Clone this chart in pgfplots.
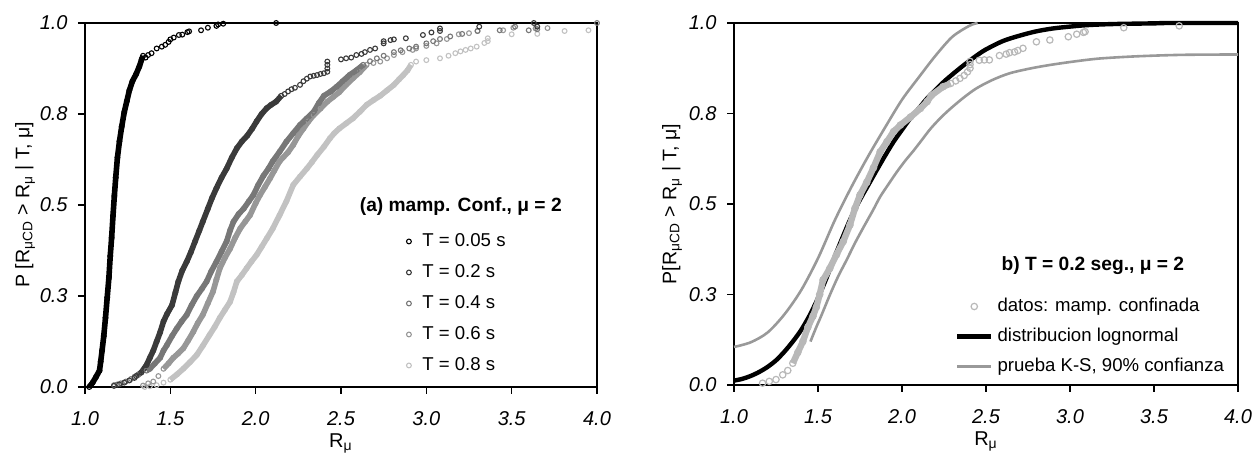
\documentclass[border=0pt]{standalone}
\usepackage{fontspec}
\setmainfont{Liberation Sans}
\usepackage{pgfplots}
\pgfplotsset{compat=1.18}
\definecolor{c1}{HTML}{000000}
\definecolor{c2}{HTML}{3A3A3A}
\definecolor{c3}{HTML}{777777}
\definecolor{c4}{HTML}{979797}
\definecolor{c5}{HTML}{C2C2C2}
\definecolor{cd}{HTML}{B8B8B8}
\definecolor{cb}{HTML}{999999}
\pgfplotsset{
 dotlegend/.style={legend image code/.code={\draw[##1] plot coordinates {(0pt,0pt)};}},
 myaxis/.style={
  scale only axis, anchor=south west,
  xmin=1, xmax=4, ymin=0, ymax=1,
  xtick={1,1.5,2,2.5,3,3.5,4},
  xticklabels={1.0,1.5,2.0,2.5,3.0,3.5,4.0},
  ytick={0,0.25,0.5,0.75,1},
  yticklabels={0.0,0.3,0.5,0.8,1.0},
  tick align=outside, xtick pos=bottom, ytick pos=left,
  major tick length=3.5pt,
  tick style={black, line width=0.6pt},
  axis line style={line width=0.6pt},
  ticklabel style={font=\fontsize{10}{12}\selectfont\itshape},
  xticklabel style={anchor=north, inner sep=0pt, yshift=-8.5pt},
  yticklabel style={anchor=east, inner sep=0pt, xshift=-5pt},
  label style={font=\fontsize{10.5}{12}\selectfont},
  every axis x label/.style={at={(axis description cs:0.5,0)}, anchor=north, inner sep=0pt, yshift=-23pt},
  clip=false,
  legend cell align=left,
 },
 dense/.style={#1, line width=2.8pt, mark=o, mark size=1.2pt, mark options={line width=0.55pt}, forget plot},
 sparse/.style={#1, only marks, mark=o, mark size=1.2pt, mark options={line width=0.55pt}, forget plot},
}
\begin{document}
\begin{tikzpicture}
\path[use as bounding box] (0,0) rectangle (627.5pt,226.5pt);
% ---------------- left panel ----------------
\begin{axis}[myaxis, at={(42.5pt,33pt)}, width=256pt, height=182pt,
  xlabel={R\textsubscript{μ}},
  ylabel={P [R\textsubscript{μCD} > R\textsubscript{μ} | T, μ]},
  every axis y label/.style={at={(axis description cs:-0.117,0.5)}, rotate=90, anchor=center, inner sep=0pt, font=\fontsize{9.8}{12}\selectfont},
  legend style={at={(0.628,0.4245)}, anchor=north west, draw=none, fill=none,
    inner sep=0pt, outer sep=0pt, font=\fontsize{9.3}{11}\selectfont,
    row sep=6.5pt, column sep=5.5pt, nodes={inner sep=0pt, text height=7pt, text depth=2pt}},
]
% T = 0.8
\addplot[sparse=c5] table[row sep=\\] {x y\\ 1.35 0.000\\ 1.38 0.002\\ 1.42 0.005\\ 1.46 0.012\\ 2.94 0.894\\ 3.00 0.898\\ 3.08 0.903\\ 3.13 0.910\\ 3.17 0.917\\ 3.20 0.922\\ 3.23 0.926\\ 3.26 0.930\\ 3.295 0.935\\ 3.34 0.945\\ 3.36 0.950\\ 3.36 0.958\\ 3.50 0.969\\ 3.65 0.970\\ 3.81 0.978\\ 3.95 0.980\\};
\addplot[dense=c5] table[row sep=\\] {x y\\ 1.50 0.020\\ 1.54 0.035\\ 1.576 0.050\\ 1.615 0.068\\ 1.655 0.088\\ 1.69 0.113\\ 1.73 0.143\\ 1.76 0.165\\ 1.79 0.190\\ 1.82 0.212\\ 1.85 0.234\\ 1.87 0.260\\ 1.89 0.290\\ 1.92 0.308\\ 1.947 0.326\\ 1.976 0.345\\ 2.006 0.363\\ 2.035 0.385\\ 2.065 0.408\\ 2.10 0.435\\ 2.14 0.472\\ 2.18 0.510\\ 2.22 0.555\\ 2.26 0.578\\ 2.30 0.600\\ 2.33 0.618\\ 2.36 0.637\\ 2.40 0.660\\ 2.435 0.683\\ 2.46 0.697\\ 2.49 0.710\\ 2.53 0.724\\ 2.57 0.738\\ 2.61 0.756\\ 2.65 0.775\\ 2.69 0.788\\ 2.73 0.800\\ 2.77 0.815\\ 2.81 0.830\\ 2.84 0.845\\ 2.865 0.857\\ 2.89 0.870\\ 2.91 0.885\\};
% T = 0.6
\addplot[sparse=c4] table[row sep=\\] {x y\\ 1.34 0.004\\ 1.37 0.010\\ 1.40 0.015\\ 1.43 0.030\\ 2.69 0.890\\ 2.73 0.894\\ 2.77 0.903\\ 2.81 0.912\\ 2.86 0.920\\ 2.92 0.926\\ 2.94 0.930\\ 3.00 0.937\\ 3.06 0.944\\ 3.12 0.956\\ 3.19 0.969\\ 3.25 0.972\\ 3.30 0.978\\ 3.45 0.980\\ 3.51 0.987\\ 3.64 0.985\\ 3.71 0.986\\};
\addplot[dense=c4] table[row sep=\\] {x y\\ 1.46 0.050\\ 1.49 0.065\\ 1.517 0.080\\ 1.546 0.092\\ 1.576 0.106\\ 1.605 0.128\\ 1.635 0.152\\ 1.66 0.175\\ 1.69 0.198\\ 1.72 0.230\\ 1.75 0.262\\ 1.77 0.295\\ 1.79 0.326\\ 1.82 0.355\\ 1.85 0.380\\ 1.88 0.410\\ 1.91 0.436\\ 1.94 0.455\\ 1.967 0.472\\ 2.00 0.505\\ 2.025 0.527\\ 2.055 0.550\\ 2.084 0.573\\ 2.11 0.595\\ 2.14 0.620\\ 2.19 0.645\\ 2.22 0.665\\ 2.25 0.690\\ 2.28 0.710\\ 2.31 0.730\\ 2.34 0.747\\ 2.38 0.765\\ 2.42 0.784\\ 2.455 0.797\\ 2.49 0.810\\ 2.53 0.830\\ 2.57 0.848\\ 2.61 0.865\\ 2.65 0.885\\};
% T = 0.4
\addplot[sparse=c3] table[row sep=\\] {x y\\ 1.17 0.005\\ 1.19 0.007\\ 1.21 0.010\\ 1.24 0.015\\ 1.27 0.022\\ 1.29 0.028\\ 1.31 0.033\\ 1.33 0.040\\ 2.67 0.895\\ 2.71 0.903\\ 2.75 0.910\\ 2.81 0.920\\ 2.85 0.925\\ 2.90 0.930\\ 2.94 0.935\\ 3.00 0.944\\ 3.04 0.950\\ 3.08 0.956\\ 3.14 0.963\\ 3.21 0.970\\ 3.30 0.978\\ 3.43 0.980\\ 3.52 0.990\\ 3.60 0.980\\ 3.65 0.983\\ 4.00 1.000\\};
\addplot[dense=c3] table[row sep=\\] {x y\\ 1.36 0.045\\ 1.38 0.050\\ 1.41 0.065\\ 1.44 0.080\\ 1.46 0.100\\ 1.48 0.115\\ 1.51 0.140\\ 1.537 0.160\\ 1.566 0.180\\ 1.596 0.198\\ 1.625 0.225\\ 1.655 0.250\\ 1.685 0.270\\ 1.713 0.290\\ 1.74 0.318\\ 1.77 0.344\\ 1.80 0.372\\ 1.83 0.400\\ 1.85 0.430\\ 1.87 0.454\\ 1.90 0.475\\ 1.93 0.490\\ 1.96 0.510\\ 1.986 0.527\\ 2.015 0.555\\ 2.045 0.580\\ 2.075 0.600\\ 2.10 0.620\\ 2.14 0.646\\ 2.18 0.674\\ 2.22 0.697\\ 2.26 0.720\\ 2.30 0.738\\ 2.34 0.756\\ 2.37 0.780\\ 2.40 0.800\\ 2.44 0.812\\ 2.475 0.825\\ 2.51 0.840\\ 2.55 0.857\\ 2.59 0.870\\ 2.63 0.885\\};
% T = 0.2
\addplot[sparse=c2] table[row sep=\\] {x y\\ 1.17 0.003\\ 1.20 0.007\\ 1.23 0.012\\ 1.26 0.018\\ 1.29 0.025\\ 2.17 0.805\\ 2.19 0.812\\ 2.21 0.818\\ 2.23 0.822\\ 2.26 0.830\\ 2.28 0.840\\ 2.30 0.847\\ 2.32 0.853\\ 2.34 0.855\\ 2.36 0.857\\ 2.38 0.860\\ 2.40 0.862\\ 2.42 0.866\\ 2.42 0.875\\ 2.42 0.885\\ 2.42 0.894\\ 2.50 0.900\\ 2.53 0.903\\ 2.56 0.905\\ 2.59 0.912\\ 2.62 0.915\\ 2.64 0.920\\ 2.67 0.926\\ 2.70 0.930\\ 2.75 0.944\\ 2.75 0.950\\ 2.79 0.953\\ 2.81 0.955\\ 2.88 0.958\\ 2.98 0.967\\ 3.03 0.974\\ 3.08 0.978\\ 3.08 0.985\\ 3.31 0.990\\ 3.63 1.000\\ 3.65 0.990\\};
\addplot[dense=c2] table[row sep=\\] {x y\\ 1.30 0.030\\ 1.33 0.040\\ 1.36 0.060\\ 1.38 0.080\\ 1.40 0.100\\ 1.42 0.125\\ 1.44 0.150\\ 1.46 0.180\\ 1.48 0.200\\ 1.51 0.225\\ 1.53 0.260\\ 1.547 0.290\\ 1.57 0.320\\ 1.596 0.344\\ 1.62 0.370\\ 1.645 0.400\\ 1.67 0.430\\ 1.69 0.454\\ 1.72 0.490\\ 1.745 0.520\\ 1.77 0.546\\ 1.80 0.575\\ 1.83 0.600\\ 1.86 0.630\\ 1.89 0.656\\ 1.92 0.675\\ 1.95 0.690\\ 1.98 0.710\\ 2.006 0.730\\ 2.035 0.750\\ 2.065 0.766\\ 2.09 0.775\\ 2.12 0.784\\ 2.15 0.800\\};
% T = 0.05
\addplot[sparse=c1] table[row sep=\\] {x y\\ 1.355 0.905\\ 1.37 0.912\\ 1.39 0.917\\ 1.42 0.930\\ 1.45 0.935\\ 1.47 0.940\\ 1.49 0.948\\ 1.50 0.955\\ 1.52 0.960\\ 1.55 0.967\\ 1.57 0.968\\ 1.60 0.975\\ 1.61 0.977\\ 1.68 0.980\\ 1.72 0.987\\ 1.77 0.992\\ 1.78 0.996\\ 1.81 0.998\\ 2.12 1.000\\};
\addplot[dense=c1] table[row sep=\\] {x y\\ 1.025 0.000\\ 1.045 0.012\\ 1.065 0.028\\ 1.085 0.045\\ 1.092 0.070\\ 1.100 0.100\\ 1.110 0.140\\ 1.120 0.190\\ 1.130 0.245\\ 1.140 0.300\\ 1.148 0.360\\ 1.156 0.410\\ 1.164 0.470\\ 1.172 0.525\\ 1.180 0.575\\ 1.190 0.630\\ 1.202 0.675\\ 1.215 0.715\\ 1.230 0.755\\ 1.245 0.785\\ 1.260 0.815\\ 1.278 0.840\\ 1.300 0.860\\ 1.318 0.880\\ 1.332 0.900\\ 1.340 0.910\\};
\addlegendimage{c1, only marks, mark=o, mark size=1.2pt, mark options={line width=0.55pt}, dotlegend}
\addlegendentry{T = 0.05 s}
\addlegendimage{c2, only marks, mark=o, mark size=1.2pt, mark options={line width=0.55pt}, dotlegend}
\addlegendentry{T = 0.2 s}
\addlegendimage{c3, only marks, mark=o, mark size=1.2pt, mark options={line width=0.55pt}, dotlegend}
\addlegendentry{T = 0.4 s}
\addlegendimage{c4, only marks, mark=o, mark size=1.2pt, mark options={line width=0.55pt}, dotlegend}
\addlegendentry{T = 0.6 s}
\addlegendimage{c5, only marks, mark=o, mark size=1.2pt, mark options={line width=0.55pt}, dotlegend}
\addlegendentry{T = 0.8 s}
\node[anchor=base, inner sep=0pt, font=\fontsize{9.6}{11}\selectfont\bfseries] at (rel axis cs:0.734,0.4816) {(a) mamp. Conf., μ = 2};
\end{axis}
% ---------------- right panel ----------------
\begin{axis}[myaxis, at={(367pt,34pt)}, width=252pt, height=181pt,
  xlabel={R\textsubscript{μ}},
  ylabel={P[R\textsubscript{μCD} > R\textsubscript{μ} | T, μ]},
  every axis y label/.style={at={(axis description cs:-0.123,0.5)}, rotate=90, anchor=center, inner sep=0pt, font=\fontsize{9.8}{12}\selectfont},
  legend style={at={(0.4385,0.2417)}, anchor=north west, draw=none, fill=none,
    inner sep=0pt, outer sep=0pt, font=\fontsize{9.3}{11}\selectfont,
    row sep=6pt, column sep=2pt, nodes={inner sep=0pt, text height=7pt, text depth=2pt}},
]
\addplot[cb, line width=1.3pt, smooth, forget plot] table[row sep=\\] {x y\\ 1.00 0.105\\ 1.10 0.118\\ 1.20 0.145\\ 1.30 0.195\\ 1.40 0.262\\ 1.50 0.350\\ 1.60 0.455\\ 1.70 0.548\\ 1.80 0.633\\ 1.90 0.712\\ 2.00 0.788\\ 2.10 0.850\\ 2.20 0.910\\ 2.30 0.962\\ 2.40 0.992\\ 2.45 1.000\\};
\addplot[cb, line width=1.3pt, smooth, forget plot] table[row sep=\\] {x y\\ 1.455 0.120\\ 1.49 0.160\\ 1.52 0.192\\ 1.57 0.248\\ 1.62 0.300\\ 1.67 0.345\\ 1.72 0.392\\ 1.77 0.435\\ 1.83 0.485\\ 1.87 0.520\\ 1.92 0.555\\ 1.97 0.589\\ 2.02 0.620\\ 2.07 0.648\\ 2.12 0.678\\ 2.17 0.708\\ 2.23 0.738\\ 2.29 0.764\\ 2.37 0.795\\ 2.445 0.820\\ 2.54 0.843\\ 2.64 0.861\\ 2.76 0.874\\ 2.88 0.884\\ 3.03 0.894\\ 3.18 0.902\\ 3.40 0.908\\ 3.67 0.912\\ 4.00 0.913\\};
\addplot[black, line width=2.2pt, smooth, forget plot] table[row sep=\\] {x y\\ 1.00 0.012\\ 1.05 0.017\\ 1.10 0.025\\ 1.15 0.036\\ 1.20 0.050\\ 1.25 0.068\\ 1.30 0.092\\ 1.35 0.120\\ 1.40 0.152\\ 1.45 0.192\\ 1.50 0.240\\ 1.55 0.295\\ 1.60 0.355\\ 1.65 0.412\\ 1.70 0.466\\ 1.75 0.512\\ 1.80 0.553\\ 1.85 0.594\\ 1.90 0.634\\ 1.95 0.672\\ 2.00 0.705\\ 2.05 0.737\\ 2.10 0.764\\ 2.15 0.792\\ 2.20 0.815\\ 2.25 0.838\\ 2.30 0.858\\ 2.35 0.877\\ 2.40 0.895\\ 2.45 0.912\\ 2.50 0.927\\ 2.60 0.950\\ 2.70 0.965\\ 2.80 0.977\\ 2.90 0.985\\ 3.00 0.990\\ 3.10 0.994\\ 3.25 0.997\\ 3.50 0.999\\ 3.60 1.000\\ 4.00 1.000\\};
\addplot[cd, line width=3.2pt, mark=o, mark size=1.6pt, mark options={line width=0.6pt}, forget plot] table[row sep=\\] {x y\\ 1.35 0.060\\ 1.38 0.090\\ 1.41 0.120\\ 1.44 0.160\\ 1.47 0.190\\ 1.49 0.215\\ 1.51 0.250\\ 1.53 0.290\\ 1.57 0.322\\ 1.61 0.360\\ 1.65 0.396\\ 1.69 0.442\\ 1.72 0.488\\ 1.75 0.525\\ 1.79 0.560\\ 1.83 0.600\\ 1.87 0.644\\ 1.91 0.672\\ 1.95 0.700\\ 1.99 0.718\\ 2.05 0.740\\ 2.11 0.764\\ 2.15 0.783\\ 2.175 0.800\\ 2.245 0.824\\ 2.29 0.833\\};
\addplot[cd, only marks, mark=o, mark size=1.6pt, mark options={line width=0.6pt}, forget plot] table[row sep=\\] {x y\\ 1.17 0.005\\ 1.21 0.010\\ 1.25 0.015\\ 1.29 0.028\\ 1.32 0.040\\ 2.32 0.840\\ 2.345 0.847\\ 2.37 0.855\\ 2.39 0.865\\ 2.405 0.875\\ 2.405 0.885\\ 2.405 0.894\\ 2.46 0.897\\ 2.49 0.898\\ 2.52 0.898\\ 2.58 0.910\\ 2.62 0.914\\ 2.64 0.918\\ 2.67 0.920\\ 2.69 0.924\\ 2.72 0.930\\ 2.80 0.948\\ 2.88 0.953\\ 2.99 0.962\\ 3.04 0.969\\ 3.08 0.974\\ 3.09 0.976\\ 3.32 0.987\\ 3.65 0.992\\};
\addlegendimage{cd, only marks, mark=o, mark size=1.6pt, mark options={line width=0.6pt}}
\addlegendentry{datos: mamp. confinada}
\addlegendimage{black, line width=2.2pt}
\addlegendentry{distribucion lognormal}
\addlegendimage{cb, line width=1.3pt}
\addlegendentry{prueba K-S, 90\% confianza}
\node[anchor=base, inner sep=0pt, font=\fontsize{9.6}{11}\selectfont\bfseries] at (rel axis cs:0.712,0.316) {b) T = 0.2 seg., μ = 2};
\end{axis}
\end{tikzpicture}
\end{document}
